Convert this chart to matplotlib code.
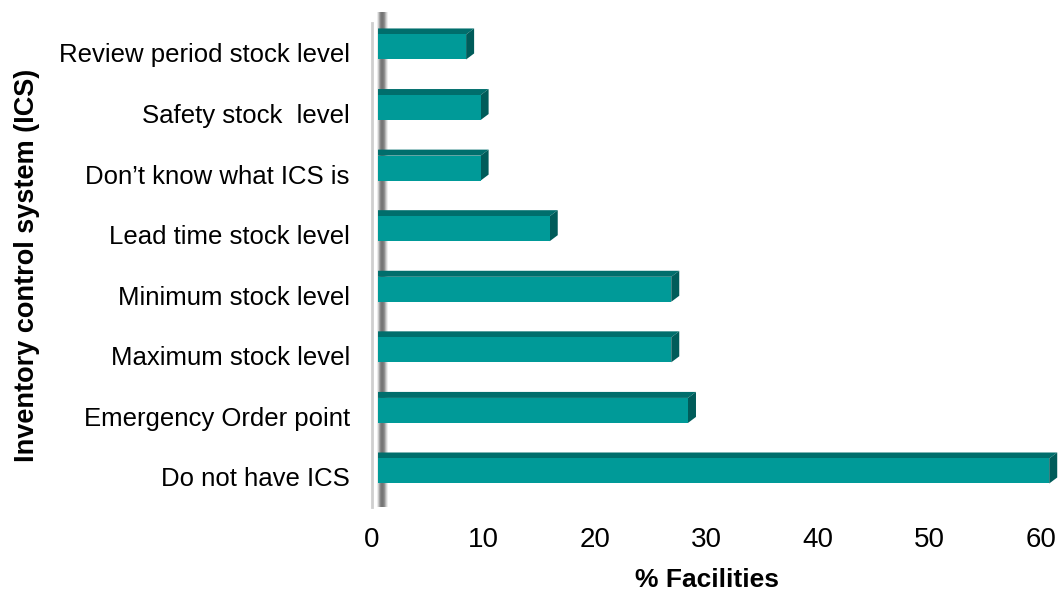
import numpy as np
import matplotlib
matplotlib.use("Agg")
import matplotlib.pyplot as plt
import matplotlib.transforms as mtransforms
from matplotlib.patches import Rectangle, Polygon

plt.rcParams["font.family"] = ["Liberation Sans", "DejaVu Sans"]

# data (bottom to top)
categories = [
    "Do not have ICS",
    "Emergency Order point",
    "Maximum stock level",
    "Minimum stock level",
    "Lead time stock level",
    "Don\u2019t know what ICS is",
    "Safety stock  level",
    "Review period stock level",
]
pct_facilities = [60.2, 27.8, 26.3, 26.3, 15.4, 9.2, 9.2, 7.9]
xticks = [0, 10, 20, 30, 40, 50, 60]

FRONT = "#009A98"
TOP = "#006E6C"
SIDE = "#005C5A"

fig = plt.figure(figsize=(10.59, 5.92), dpi=100)
ax = fig.add_axes([0.3513, 0.1431, 0.6317, 0.8186])
ax.set_xlim(0, 60)
ax.set_ylim(-0.5, len(categories) - 0.5)

# 3D look: depth in pixels converted to data units via the axes scales
fig.canvas.draw()
p0 = ax.transData.transform((0, 0))
p1 = ax.transData.transform((1, 1))
px_x = p1[0] - p0[0]
px_y = p1[1] - p0[1]
dx = 8 / px_x
dy = 6 / px_y
h = 25 / px_y

shift = ax.transData + mtransforms.ScaledTranslation(0.06, 0.06, fig.dpi_scale_trans)

# shadow band on the back wall
grad = np.array([[1.0, 0.88, 0.68, 0.52, 0.45, 0.47, 0.56, 0.74, 0.9, 1.0]])
ax.imshow(grad, cmap="gray", vmin=0, vmax=1, aspect="auto",
          extent=(4 / 669, 17 / 669, 0.0, 1.02), transform=ax.transAxes,
          clip_on=False, zorder=1, interpolation="bilinear")

ypos = np.arange(len(categories))
for y, v in zip(ypos, pct_facilities):
    yb = y - h / 2
    yt = y + h / 2
    ax.add_patch(Polygon([(0, yt), (v, yt), (v + dx, yt + dy), (0, yt + dy)],
                         closed=True, facecolor=TOP, edgecolor="none",
                         transform=shift, zorder=3, clip_on=False))
    ax.add_patch(Polygon([(v, yb), (v + dx, yb + dy), (v + dx, yt + dy), (v, yt)],
                         closed=True, facecolor=SIDE, edgecolor="none",
                         transform=shift, zorder=3, clip_on=False))
    ax.add_patch(Rectangle((0, yb), v, h, facecolor=FRONT, edgecolor="none",
                           transform=shift, zorder=4, clip_on=False))

for s in ["top", "right", "bottom"]:
    ax.spines[s].set_visible(False)
ax.spines["left"].set_color("#CFCFCF")
ax.spines["left"].set_linewidth(2)

ax.set_xticks(xticks)
ax.set_xticklabels([str(t) for t in xticks], fontsize=20)
ax.set_yticks(ypos)
ax.set_yticklabels(categories, fontsize=18.5)
ax.tick_params(axis="x", length=0, pad=14)
ax.tick_params(axis="y", length=0, pad=16)

ax.set_xlabel("% Facilities", fontsize=19, fontweight="bold", labelpad=11)
ax.set_ylabel("Inventory control system (ICS)", fontsize=19.5,
              fontweight="bold")
ax.yaxis.set_label_coords(-0.497, 0.5)

fig.savefig("out.png", dpi=100, facecolor="white")
